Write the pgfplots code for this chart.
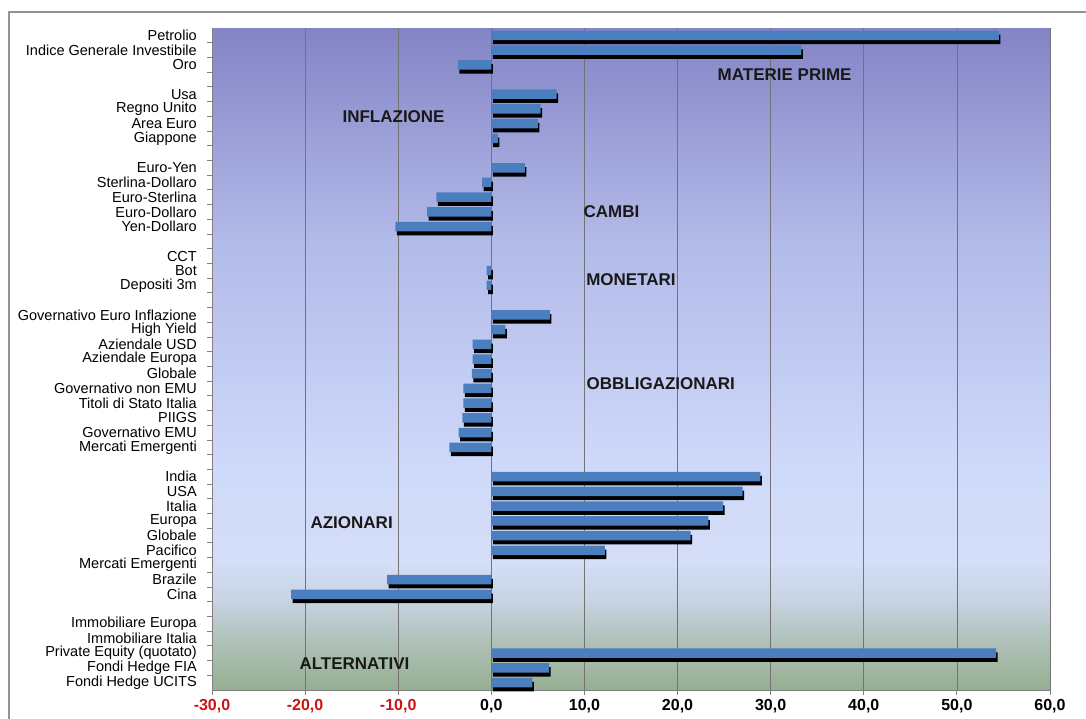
\documentclass[border=0pt]{standalone}
\usepackage{fontspec}
\setmainfont{Liberation Sans}
\usepackage{pgfplots}
\pgfplotsset{compat=1.18}
\usepackage{pgfplotstable}

\definecolor{barblue}{RGB}{74,126,190}
\definecolor{negred}{RGB}{204,20,20}
\definecolor{bgA}{RGB}{150,174,146}
\definecolor{bgB}{RGB}{176,194,186}
\definecolor{bgC}{RGB}{200,212,226}
\definecolor{bgD}{RGB}{212,222,248}
\definecolor{bgE}{RGB}{206,216,249}
\definecolor{bgF}{RGB}{178,186,232}
\definecolor{bgG}{RGB}{132,132,198}

% bottom -> top, plot area maps to 25bp..75bp
\pgfdeclareverticalshading{chartbg}{100bp}{%
  color(0bp)=(bgA); color(25bp)=(bgA); color(28.8bp)=(bgB);
  color(31.8bp)=(bgC); color(34.8bp)=(bgD); color(42.4bp)=(bgE);
  color(59bp)=(bgF); color(75bp)=(bgG); color(100bp)=(bgG)}

% y = position from the bottom (gaps between groups left empty);
% CCT, Mercati Emergenti (azionari), Immobiliare Europa/Italia have no bar
\pgfplotstableread{
y x
45 54.5
44 33.3
43 -3.6
41 7.0
40 5.3
39 5.0
38 0.7
36 3.6
35 -1.0
34 -5.9
33 -6.9
32 -10.3
29 -0.5
28 -0.5
26 6.3
25 1.5
24 -2.0
23 -2.0
22 -2.1
21 -3.0
20 -3.0
19 -3.1
18 -3.5
17 -4.5
15 28.9
14 27.0
13 24.9
12 23.3
11 21.4
10 12.2
8 -11.2
7 -21.5
3 54.2
2 6.2
1 4.4
}\perfdata

\begin{document}
\begin{tikzpicture}
\useasboundingbox (0,0) rectangle (1086pt,-718pt);
\draw[gray!85, line width=1.3pt] (9pt,-720pt) -- (9pt,-12pt) -- (1090pt,-12pt);
\begin{axis}[
  at={(212pt,-28pt)}, anchor=north west,
  scale only axis, width=838pt, height=662pt,
  xmin=-30, xmax=60, ymin=0.5, ymax=45.5,
  axis x line*=bottom, axis y line*=left,
  axis line style={gray, line width=0.8pt},
  axis background/.style={shading=chartbg},
  xmajorgrids, grid style={gray!90!black, line width=0.7pt},
  xtick={-30,-20,...,60},
  xticklabels={{\textcolor{negred}{-30,0}},{\textcolor{negred}{-20,0}},{\textcolor{negred}{-10,0}},
    {0,0},{10,0},{20,0},{30,0},{40,0},{50,0},{60,0}},
  xticklabel style={font=\fontsize{16}{16}\selectfont\bfseries, inner sep=0pt, yshift=-4pt},
  ytick={45,44,43,41,40,39,38,36,35,34,33,32,30,29,28,26,25,24,23,22,21,20,19,18,17,
    15,14,13,12,11,10,9,8,7,5,4,3,2,1},
  yticklabels={Petrolio,Indice Generale Investibile,Oro,
    Usa,Regno Unito,Area Euro,Giappone,
    Euro-Yen,Sterlina-Dollaro,Euro-Sterlina,Euro-Dollaro,Yen-Dollaro,
    CCT,Bot,Depositi 3m,
    Governativo Euro Inflazione,High Yield,Aziendale USD,Aziendale Europa,Globale,
    Governativo non EMU,Titoli di Stato Italia,PIIGS,Governativo EMU,Mercati Emergenti,
    India,USA,Italia,Europa,Globale,Pacifico,Mercati Emergenti,Brazile,Cina,
    Immobiliare Europa,Immobiliare Italia,Private Equity (quotato),Fondi Hedge FIA,Fondi Hedge UCITS},
  yticklabel style={font=\fontsize{14.5}{15}\selectfont, inner sep=0pt, xshift=-10pt},
  every major y tick/.style={draw=none},
  minor ytick={1.5,2.5,...,44.5},
  tick align=outside, major tick length=5pt, minor tick length=5pt,
  tick style={gray, line width=0.8pt},
  clip=false,
]
\addplot[xbar, bar width=9.5pt, bar shift=-4pt, fill=black, draw=none, xshift=1.5pt]
  table[x=x, y=y]{\perfdata};
\addplot[xbar, bar width=9.5pt, bar shift=0pt, fill=barblue, draw=none]
  table[x=x, y=y]{\perfdata};

\begin{scope}[every node/.style={font=\fontsize{17}{17}\selectfont\bfseries, text=black!90}]
\node at (axis cs:31.5,42.3) {MATERIE PRIME};
\node at (axis cs:-10.5,39.5) {INFLAZIONE};
\node at (axis cs:12.9,33.0) {CAMBI};
\node at (axis cs:15.0,28.4) {MONETARI};
\node at (axis cs:18.2,21.3) {OBBLIGAZIONARI};
\node at (axis cs:-15.0,11.9) {AZIONARI};
\node at (axis cs:-14.7,2.3) {ALTERNATIVI};
\end{scope}
\end{axis}
\end{tikzpicture}
\end{document}
